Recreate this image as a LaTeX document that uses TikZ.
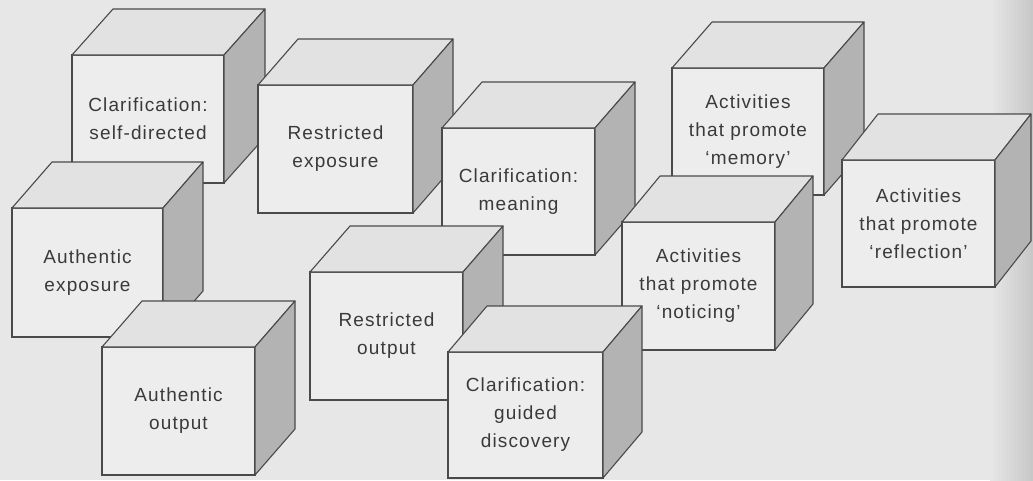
\documentclass[tikz,border=0pt]{standalone}
\usepackage{fontspec}
\setmainfont{Liberation Sans}[LetterSpace=6.0]
\definecolor{bgcol}{HTML}{E7E7E7}
\definecolor{frontcol}{HTML}{EDEDED}
\definecolor{topcol}{HTML}{E2E2E2}
\definecolor{sidecol}{HTML}{B3B3B3}
\definecolor{edgecol}{HTML}{4A4A4A}
\definecolor{txtcol}{HTML}{3A3A3A}
\tikzset{
  frontface/.style={draw=edgecol, fill=frontcol, line width=1.1pt, inner sep=0pt, outer sep=0pt,
    align=center, text=txtcol, font=\fontsize{19}{28}\selectfont},
  topface/.style={draw=edgecol, fill=topcol, line width=1.1pt, line join=round},
  sideface/.style={draw=edgecol, fill=sidecol, line width=1.1pt, line join=round},
}
% #1 name, #2 x1, #3 y1, #4 x2, #5 y2, #6 depth dx, #7 text
\newcommand\drawcube[7]{%
  \node[frontface, minimum width={(#4-#2)*1pt}, minimum height={(#5-#3)*1pt}]
    (#1) at ({(#2+#4)/2},{(#3+#5)/2}) {#7};
  \fill[topcol] (#1.north west) -- ++(#6,-46) -- ([shift={(#6,-46)}]#1.north east) -- (#1.north east) -- cycle;
  \draw[topface] (#1.north west) -- ++(#6,-46) -- ([shift={(#6,-46)}]#1.north east) -- (#1.north east) -- cycle;
  \draw[sideface] (#1.north east) -- ([shift={(#6,-46)}]#1.north east) -- ([shift={(#6,-46)}]#1.south east) -- (#1.south east) -- cycle;
}
\begin{document}
\begin{tikzpicture}[x=1pt,y=-1pt]
\useasboundingbox (0,0) rectangle (1033,480);
\fill[bgcol] (0,0) rectangle (1033,480);
\shade[left color=bgcol, right color=black!22] (990,0) rectangle (1033,480);
\drawcube{selfdir}{72}{55}{224}{183}{41}{Clarification:\\self-directed}
\drawcube{restexp}{258}{85}{413}{213}{40}{Restricted\\exposure}
\drawcube{meaning}{442}{128}{595}{255}{40}{Clarification:\\meaning}
\drawcube{memory}{672}{68}{824}{195}{40}{Activities\\that promote\\‘memory’}
\drawcube{reflect}{842}{160}{995}{287}{36}{Activities\\that promote\\‘reflection’}
\drawcube{authexp}{12}{208}{163}{337}{40}{Authentic\\exposure}
\drawcube{authout}{102}{347}{255}{475}{40}{Authentic\\output}
\drawcube{notice}{622}{222}{775}{350}{38}{Activities\\that promote\\‘noticing’}
\drawcube{restout}{310}{272}{463}{400}{40}{Restricted\\output}
\drawcube{guided}{448}{352}{603}{478}{39}{Clarification:\\guided\\discovery}
\end{tikzpicture}
\end{document}
